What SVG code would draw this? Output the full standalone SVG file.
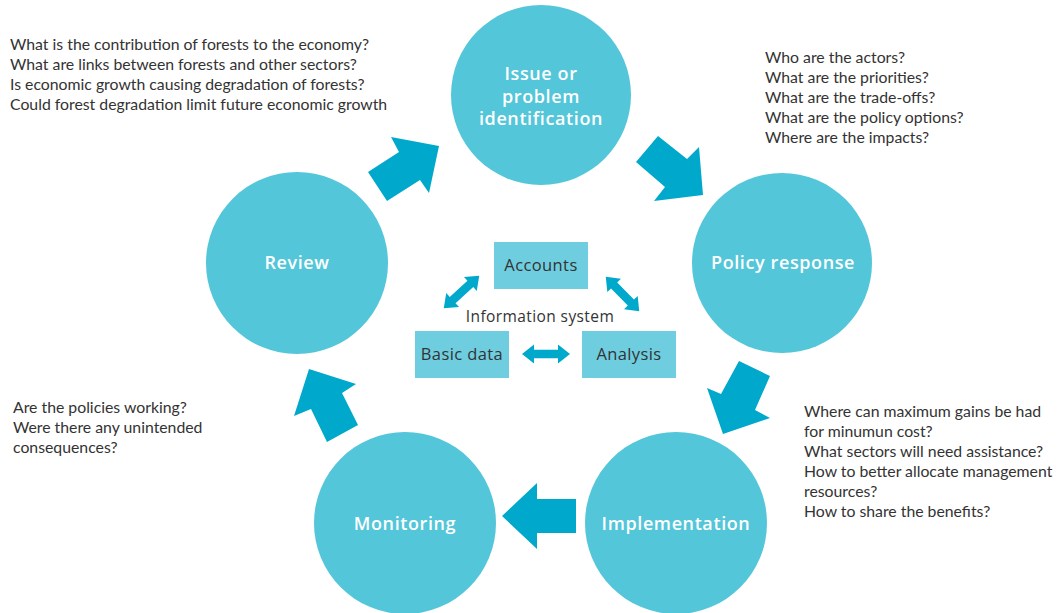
<svg xmlns="http://www.w3.org/2000/svg" width="1060" height="613" viewBox="0 0 1060 613">
<defs>
<style>
.circ{fill:#53C6D9;}
.big{fill:#00A9CC;}
.box{fill:#6ECEE0;}
.dbl{fill:#00A9CC;}
.lbl{font-family:"Open Sans","Liberation Sans",sans-serif;font-size:18px;font-weight:600;fill:#ffffff;text-anchor:middle;letter-spacing:0.6px;}
.q{font-family:"Lato","Liberation Sans",sans-serif;font-size:15.8px;fill:#333333;}
.bt{font-family:"Open Sans","Liberation Sans",sans-serif;font-size:15.5px;fill:#333333;text-anchor:middle;letter-spacing:0.4px;}
.bt2{font-family:"Open Sans","Liberation Sans",sans-serif;font-size:16.5px;fill:#333333;text-anchor:middle;letter-spacing:0.4px;}
</style>
<path id="dbl" d="M-24,0 L-12,-9.5 L-12,-4.3 L12,-4.3 L12,-9.5 L24,0 L12,9.5 L12,4.3 L-12,4.3 L-12,9.5 Z"/>
</defs>
<rect width="1060" height="613" fill="#ffffff"/>

<g id="node-issue">
<circle class="circ" cx="541" cy="95" r="90"/>
<text class="lbl" x="541" y="80">Issue or</text>
<text class="lbl" x="541" y="103">problem</text>
<text class="lbl" x="541" y="125">identification</text>
</g>
<g id="node-policy">
<circle class="circ" cx="782" cy="263" r="90"/>
<text class="lbl" x="783" y="269">Policy response</text>
</g>
<g id="node-implementation">
<circle class="circ" cx="676" cy="523" r="91"/>
<text class="lbl" x="676" y="530">Implementation</text>
</g>
<g id="node-monitoring">
<circle class="circ" cx="405" cy="523" r="91"/>
<text class="lbl" x="405" y="530">Monitoring</text>
</g>
<g id="node-review">
<circle class="circ" cx="297" cy="263" r="91"/>
<text class="lbl" x="297" y="269">Review</text>
</g>

<g id="node-accounts">
<rect class="box" x="494" y="242" width="94" height="47"/>
<text class="bt2" x="541" y="271">Accounts</text>
</g>
<g id="node-basic-data">
<rect class="box" x="415" y="331" width="94" height="47"/>
<text class="bt2" x="462" y="360">Basic data</text>
</g>
<g id="node-analysis">
<rect class="box" x="582" y="331" width="94" height="47"/>
<text class="bt2" x="629" y="360">Analysis</text>
</g>
<g id="label-info">
<text class="bt" x="540" y="322">Information system</text>
</g>

<g id="connectors">
<polygon class="big" points="368,172 399,152 391,137 439,146 429,193 420,180 387,201"/>
<polygon class="big" points="636,162 658,136 687,159 699,147 703,195 654,201 665,187"/>
<polygon class="big" points="739,361 770,376 755,410 770,418 723,434 707,388 721,394"/>
<polygon class="big" points="502,516 537,483 537,499 576,499 576,533 537,533 537,549"/>
<polygon class="big" points="309,369 356,384 342,393 358,425 327,442 311,409 294,416"/>
<use href="#dbl" class="dbl" transform="translate(461.5,292) rotate(-42.4)"/>
<use href="#dbl" class="dbl" transform="translate(622.5,294) rotate(45.8)"/>
<use href="#dbl" class="dbl" transform="translate(546,354)"/>
</g>

<g id="text-issue">
<text class="q" x="10" y="50">What is the contribution of forests to the economy?</text>
<text class="q" x="10" y="70">What are links between forests and other sectors?</text>
<text class="q" x="10" y="90">Is economic growth causing degradation of forests?</text>
<text class="q" x="10" y="110">Could forest degradation limit future economic growth</text>
</g>
<g id="text-policy">
<text class="q" x="765" y="63">Who are the actors?</text>
<text class="q" x="765" y="83">What are the priorities?</text>
<text class="q" x="765" y="103">What are the trade-offs?</text>
<text class="q" x="765" y="123">What are the policy options?</text>
<text class="q" x="765" y="143">Where are the impacts?</text>
</g>
<g id="text-implementation">
<text class="q" x="804" y="417">Where can maximum gains be had</text>
<text class="q" x="804" y="437">for minumun cost?</text>
<text class="q" x="804" y="457">What sectors will need assistance?</text>
<text class="q" x="804" y="477">How to better allocate management</text>
<text class="q" x="804" y="497">resources?</text>
<text class="q" x="804" y="517">How to share the benefits?</text>
</g>
<g id="text-review">
<text class="q" x="13" y="413">Are the policies working?</text>
<text class="q" x="13" y="433">Were there any unintended</text>
<text class="q" x="13" y="453">consequences?</text>
</g>
</svg>
